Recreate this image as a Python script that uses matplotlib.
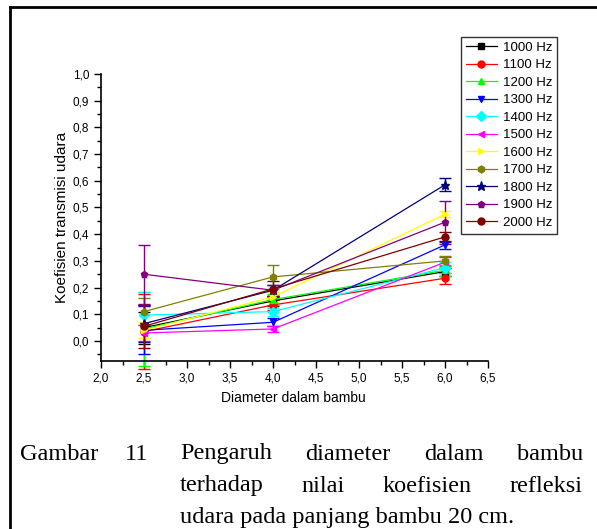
import matplotlib
matplotlib.use("Agg")
import matplotlib.pyplot as plt
from matplotlib.ticker import MultipleLocator, FuncFormatter
from matplotlib.lines import Line2D

plt.rcParams["font.family"] = ["Liberation Sans", "DejaVu Sans"]

# data
diameter = [2.5, 4.0, 6.0]
labels = ["1000 Hz", "1100 Hz", "1200 Hz", "1300 Hz", "1400 Hz", "1500 Hz",
          "1600 Hz", "1700 Hz", "1800 Hz", "1900 Hz", "2000 Hz"]

k1000 = [0.050, 0.150, 0.260]
k1100 = [0.035, 0.135, 0.235]
k1200 = [0.045, 0.155, 0.265]
k1300 = [0.040, 0.070, 0.360]
k1400 = [0.097, 0.110, 0.275]
k1500 = [0.030, 0.045, 0.295]
k1600 = [0.040, 0.165, 0.475]
k1700 = [0.110, 0.240, 0.300]
k1800 = [0.065, 0.190, 0.585]
k1900 = [0.250, 0.190, 0.445]
k2000 = [0.055, 0.195, 0.390]

e1000 = [0.060, 0.020, 0.015]
e1100 = [0.140, 0.020, 0.020]
e1200 = [0.140, 0.020, 0.020]
e1300 = [0.090, 0.015, 0.015]
e1400 = [0.085, 0.015, 0.020]
e1500 = [0.030, 0.010, 0.020]
e1600 = [0.030, 0.020, 0.010]
e1700 = [0.050, 0.045, 0.020]
e1800 = [0.070, 0.020, 0.025]
e1900 = [0.110, 0.020, 0.080]
e2000 = [0.080, 0.030, 0.020]

values = [k1000, k1100, k1200, k1300, k1400, k1500, k1600, k1700, k1800, k1900, k2000]
errors = [e1000, e1100, e1200, e1300, e1400, e1500, e1600, e1700, e1800, e1900, e2000]
colors = ["#000000", "#ff0000", "#00ff00", "#0000ff", "#00ffff", "#ff00ff",
          "#ffff00", "#808000", "#000080", "#800080", "#800000"]
markers = ["s", "o", "^", "v", "D", "<", ">", "h", "*", "p", "o"]

W, H = 597, 529
fig = plt.figure(figsize=(W / 100, H / 100), dpi=100)
ax = fig.add_axes([101 / W, 1 - 361 / H, (488 - 101) / W, (361 - 74) / H])

handles = []
for y, err, c, m, lab in zip(values, errors, colors, markers, labels):
    ms = 6.5 if m == "*" else 5
    ax.errorbar(diameter, y, yerr=err, color=c, marker=m, markersize=ms,
                lw=0.9, elinewidth=1.0, capsize=4, capthick=1.0, clip_on=False)
    handles.append(Line2D([], [], color=c, marker=m, markersize=ms, lw=0.9, label=lab))

ax.set_xlim(2.0, 6.5)
ax.set_ylim(-0.075, 1.0)
ax.xaxis.set_major_locator(MultipleLocator(0.5))
ax.xaxis.set_minor_locator(MultipleLocator(0.25))
ax.yaxis.set_major_locator(MultipleLocator(0.1))
ax.yaxis.set_minor_locator(MultipleLocator(0.05))
comma = FuncFormatter(lambda v, p: f"{v:.1f}".replace(".", ",").replace("-0,0", "0,0"))
ax.xaxis.set_major_formatter(comma)
ax.yaxis.set_major_formatter(comma)
ax.tick_params(which="major", direction="out", length=5, width=1, labelsize=8.5)
ax.tick_params(which="minor", direction="out", length=3, width=1)
for s in ["top", "right"]:
    ax.spines[s].set_visible(False)
for s in ["left", "bottom"]:
    ax.spines[s].set_linewidth(1.2)

fig.text(293 / W, 1 - 398 / H, "Diameter dalam bambu", ha="center", va="center", fontsize=10)
fig.text(62 / W, 1 - 217 / H, "Koefisien transmisi udara", rotation=90,
         ha="center", va="center", fontsize=11)

leg = fig.legend(handles=handles, loc="upper left", bbox_to_anchor=(461 / W, 1 - 37 / H),
                 fontsize=9.5, frameon=True, fancybox=False, borderaxespad=0,
                 labelspacing=0.4, handlelength=2.4, handletextpad=0.4,
                 borderpad=0.35)
leg.get_frame().set_edgecolor("black")
leg.get_frame().set_linewidth(1.0)

# page border lines
fig.add_artist(Line2D([10 / W, 1], [1 - 7 / H, 1 - 7 / H], transform=fig.transFigure, color="black", lw=2))
fig.add_artist(Line2D([10 / W, 10 / W], [0, 1 - 7 / H], transform=fig.transFigure, color="black", lw=2))

# caption, justified like the document
renderer = fig.canvas.get_renderer()
cap_font = dict(family=["Liberation Serif", "DejaVu Serif"], fontsize=17.5, va="center")


def justify(words, x0, x1, y):
    texts = [fig.text(0, 1 - y / H, w, **cap_font) for w in words]
    widths = [t.get_window_extent(renderer).width for t in texts]
    gap = (x1 - x0 - sum(widths)) / (len(words) - 1)
    x = x0
    for t, w in zip(texts, widths):
        t.set_x(x / W)
        x += w + gap


fig.text(20 / W, 1 - 454 / H, "Gambar", **cap_font)
fig.text(125 / W, 1 - 454 / H, "11", **cap_font)
justify(["Pengaruh", "diameter", "dalam", "bambu"], 180, 583, 454)
justify(["terhadap", "nilai", "koefisien", "refleksi"], 180, 583, 486)
fig.text(180 / W, 1 - 517 / H, "udara pada panjang bambu 20 cm.", **cap_font)

fig.savefig("out.png", dpi=100)
